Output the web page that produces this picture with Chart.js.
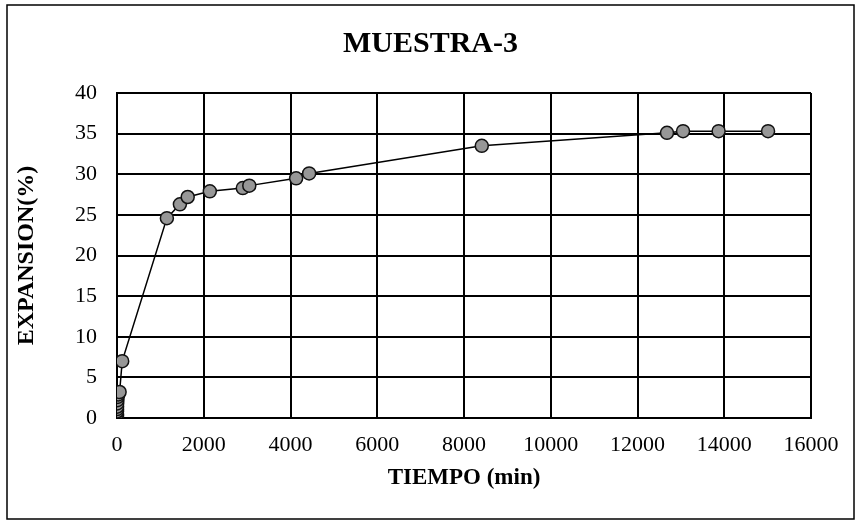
<!DOCTYPE html>
<html>
<head>
<meta charset="utf-8">
<script src="https://cdn.jsdelivr.net/npm/chart.js@4"></script>
<style>
  html, body { margin: 0; padding: 0; background: #fff; }
  #wrap { width: 861px; height: 525px; }
</style>
</head>
<body>
<div id="wrap"><canvas id="myChart" width="861" height="525"></canvas></div>
<script>
// tiempo (min) y expansión (%) de la muestra 3
var tiempo = [0, 0.1, 0.25, 0.5, 1, 2, 4, 8, 15, 30, 60, 120,
  1150, 1450, 1630, 2140, 2900, 3050, 4130, 4430, 8410,
  12680, 13050, 13870, 15010];
var expansion = [0, 0.3, 0.5, 0.8, 1.1, 1.4, 1.8, 2.2, 2.6, 2.9, 3.2, 7.0,
  24.6, 26.3, 27.2, 27.9, 28.3, 28.6, 29.5, 30.1, 33.5,
  35.1, 35.3, 35.3, 35.3];
var xTicks = [0, 2000, 4000, 6000, 8000, 10000, 12000, 14000, 16000];
var yTicks = [0, 5, 10, 15, 20, 25, 30, 35, 40];

var puntos = tiempo.map(function (t, i) { return { x: t, y: expansion[i] }; });

// marco exterior del gráfico
var marco = {
  id: "marco",
  beforeDraw: function (chart) {
    var c = chart.ctx;
    c.save();
    c.fillStyle = "#fff";
    c.fillRect(0, 0, chart.width, chart.height);
    c.strokeStyle = "#000";
    c.lineWidth = 1.5;
    c.strokeRect(7, 5, 847, 514);
    c.restore();
  }
};

var serif = "'Liberation Serif', 'Times New Roman', serif";

var ctx = document.getElementById("myChart").getContext("2d");
var myChart = new Chart(ctx, {
  type: "scatter",
  data: {
    datasets: [{
      label: "Muestra 3",
      data: puntos,
      showLine: true,
      tension: 0,
      borderColor: "#000",
      borderWidth: 1.5,
      pointRadius: 6.5,
      pointHoverRadius: 6.5,
      pointBackgroundColor: "#979797",
      pointBorderColor: "#111",
      pointBorderWidth: 1.5
    }]
  },
  options: {
    responsive: false,
    animation: false,
    layout: { padding: { left: 8, right: 8, top: 0, bottom: 10 } },
    plugins: {
      legend: { display: false },
      tooltip: { enabled: false },
      title: {
        display: true,
        text: "MUESTRA-3",
        color: "#000",
        font: { family: serif, size: 30, weight: "bold" },
        padding: { top: 26, bottom: 31 }
      }
    },
    scales: {
      x: {
        type: "linear",
        min: 0,
        max: 16000,
        afterBuildTicks: function (scale) {
          scale.ticks = xTicks.map(function (v) { return { value: v }; });
        },
        afterFit: function (scale) { scale.height = 97; },
        grid: { color: "#000", lineWidth: 2, drawTicks: false },
        border: { color: "#000", width: 2 },
        ticks: {
          color: "#000",
          padding: 14,
          maxRotation: 0,
          font: { family: serif, size: 22 },
          callback: function (v) { return String(v); }
        },
        title: {
          display: true,
          text: "TIEMPO (min)",
          color: "#000",
          font: { family: serif, size: 23, weight: "bold" },
          padding: { top: 0, bottom: 23 }
        }
      },
      y: {
        type: "linear",
        min: 0,
        max: 40,
        afterBuildTicks: function (scale) {
          scale.ticks = yTicks.map(function (v) { return { value: v }; });
        },
        afterFit: function (scale) { scale.width = 109; },
        grid: { color: "#000", lineWidth: 2, drawTicks: false },
        border: { color: "#000", width: 2 },
        ticks: {
          color: "#000",
          padding: 20,
          font: { family: serif, size: 22 },
          callback: function (v) { return String(v); }
        },
        title: {
          display: true,
          text: "EXPANSION(%)",
          color: "#000",
          font: { family: serif, size: 24, weight: "bold" },
          padding: { top: 4, bottom: 0 }
        }
      },
      // margen derecho vacío
      margen: {
        type: "linear",
        position: "right",
        min: 0,
        max: 40,
        afterFit: function (scale) { scale.width = 42; },
        grid: { display: false, drawTicks: false },
        border: { display: false },
        ticks: { display: false }
      }
    }
  },
  plugins: [marco]
});
</script>
</body>
</html>
